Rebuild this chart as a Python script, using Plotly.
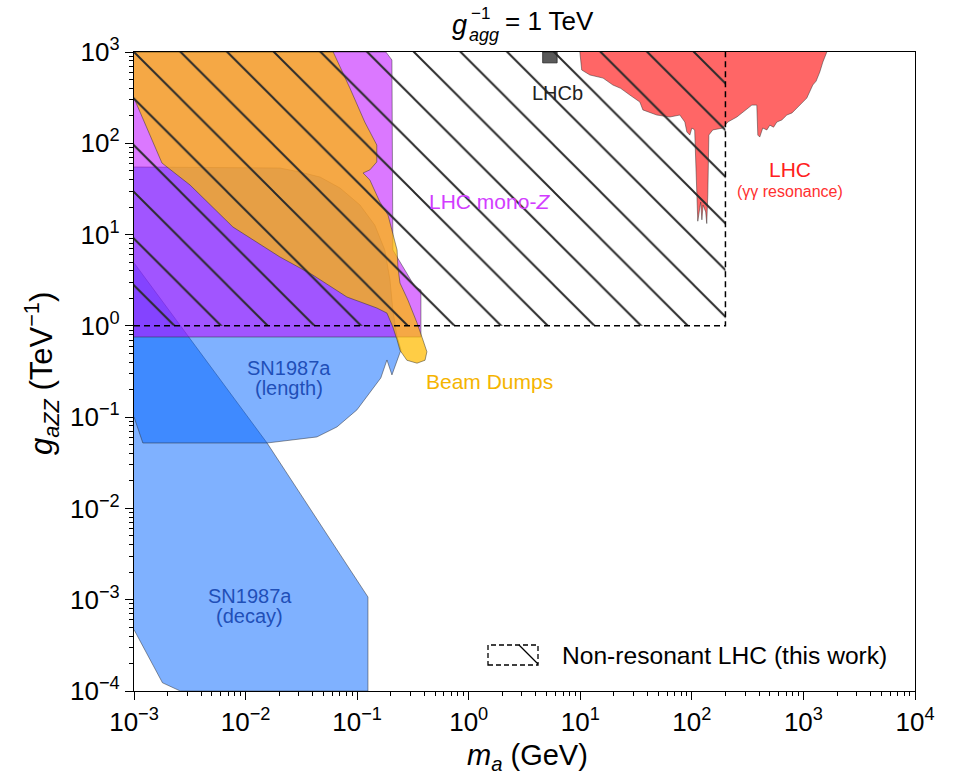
import numpy as np
import plotly.graph_objects as go

# ---------------- data (m_a in GeV, g_aZZ in TeV^-1) ----------------
decay_m = [1e-3, 0.0156, 0.125, 0.125, 0.0026, 0.0018, 1e-3]
decay_g = [4.9, 0.052, 0.00107, 1e-4, 1e-4, 1.23e-4, 4.7e-4]

length_m = [1e-3, 0.0203, 0.0307, 0.0465, 0.0702, 0.106, 0.144, 0.177, 0.197, 0.209, 0.228,
            0.247, 0.205, 0.185, 0.163, 0.130, 0.0995, 0.0659, 0.0436, 0.0156, 0.0012, 1e-3]
length_g = [55.0, 53.6, 48.5, 42.7, 32.4, 21.1, 12.7, 6.78, 3.18, 1.49, 0.755,
            0.545, 0.29, 0.423, 0.269, 0.184, 0.120, 0.0781, 0.0607, 0.0521, 0.0521, 0.1005]

monoz_m = [1e-3, 0.181, 0.205, 0.209, 0.330, 0.373, 0.373, 1e-3]
monoz_g = [1000, 1000, 817, 6.78, 2.67, 2.47, 0.755, 0.755]

beam_m = [1e-3, 0.061, 0.086, 0.117, 0.150, 0.150, 0.130, 0.113, 0.130, 0.160, 0.189, 0.205,
          0.228, 0.232, 0.242, 0.285, 0.344, 0.389, 0.422, 0.406, 0.344, 0.279, 0.242, 0.228,
          0.209, 0.185, 0.150, 0.081, 0.040, 0.0203, 0.0077, 0.00318, 0.00178, 1e-3]
beam_g = [1000, 1000, 404, 171, 95.7, 62.4, 51.1, 47.3, 39.6, 22.7, 16.4, 11.2,
          6.78, 4.42, 2.95, 1.92, 1.08, 0.70, 0.52, 0.42, 0.39, 0.42, 0.54, 0.70,
          0.97, 1.38, 1.57, 2.07, 3.61, 5.69, 12.1, 34.9, 60.8, 313]

lhc_m = [9.91, 10.3, 12.2, 16.0, 19.6, 23.0, 27.8, 34.2, 36.4, 48.5, 63.5, 78.0, 86.5, 90.2,
         95.9, 100, 106, 111, 113, 120, 123, 126, 133, 136, 139, 142, 154, 190, 210, 253,
         286, 345, 382, 390, 406, 432, 470, 500, 540, 578, 640, 710, 790, 873, 960, 1072,
         1213, 1300, 1402, 1493, 1621]
lhc_g = [1000, 635, 560, 518, 435, 400, 338, 283, 232, 204, 194, 204, 171, 133,
         123, 147, 140, 29.3, 14.0, 22.7, 14.5, 21.1, 17.7, 13.2, 27.2, 123, 140, 147, 171, 194,
         220, 262, 262, 123, 117, 147, 140, 158, 150, 171, 180, 204, 215, 244, 270, 313,
         435, 480, 604, 776, 1000]

lhcb_m = [4.6, 6.2, 6.2, 4.6, 4.6]
lhcb_g = [760, 760, 1000, 1000, 760]

nonres_m = [1e-3, 200, 200, 1e-3, 1e-3]
nonres_g = [1, 1, 1000, 1000, 1]

xtick_vals = [1e-3, 1e-2, 1e-1, 1e0, 1e1, 1e2, 1e3, 1e4]
xtick_text = ["10<sup>−3</sup>", "10<sup>−2</sup>", "10<sup>−1</sup>", "10<sup>0</sup>",
              "10<sup>1</sup>", "10<sup>2</sup>", "10<sup>3</sup>", "10<sup>4</sup>"]
ytick_vals = [1e-4, 1e-3, 1e-2, 1e-1, 1e0, 1e1, 1e2, 1e3]
ytick_text = ["10<sup>−4</sup>", "10<sup>−3</sup>", "10<sup>−2</sup>", "10<sup>−1</sup>",
              "10<sup>0</sup>", "10<sup>1</sup>", "10<sup>2</sup>", "10<sup>3</sup>"]

# ---------------- layout constants ----------------
W, H = 954, 779
L, R, T, B = 134, 39, 52, 88
PW, PH = W - L - R, H - T - B
FONT = "Liberation Sans, Arial, sans-serif"
EDGE = "rgba(40,40,40,0.6)"


def px(xp):
    return (xp - L) / PW


def py(yp):
    return (H - B - yp) / PH


fig = go.Figure()


def region(xs, ys, color, lw=0.8, edge=EDGE):
    fig.add_trace(go.Scatter(x=xs, y=ys, fill="toself", mode="lines", fillcolor=color,
                             line=dict(color=edge, width=lw), hoverinfo="skip", showlegend=False))


region(decay_m, decay_g, "rgba(0,100,255,0.5)")
region(length_m, length_g, "rgba(0,100,255,0.5)")
region(monoz_m, monoz_g, "rgba(190,10,255,0.55)")
region(beam_m, beam_g, "rgba(255,186,0,0.73)")
region(lhc_m, lhc_g, "rgba(255,0,0,0.6)")
region(lhcb_m, lhcb_g, "rgba(90,90,90,1)", edge="rgba(40,40,40,1)")

# hatched non-resonant region
fig.add_trace(go.Scatter(x=nonres_m, y=nonres_g, fill="toself", mode="none",
                         fillcolor="rgba(0,0,0,0)",
                         fillpattern=dict(shape="\\", size=33, solidity=0.06,
                                          fgcolor="#2a2a2a", fgopacity=1, bgcolor="rgba(0,0,0,0)"),
                         hoverinfo="skip", showlegend=False))
fig.add_trace(go.Scatter(x=nonres_m[:3], y=nonres_g[:3], mode="lines",
                         line=dict(color="black", width=1.5, dash="6px,4px"),
                         hoverinfo="skip", showlegend=False))

ax_common = dict(type="log", showgrid=False, zeroline=False, showline=True, mirror=True,
                 linecolor="black", linewidth=1.3, ticks="outside", ticklen=8, tickwidth=1.2,
                 tickcolor="black", tickfont=dict(family=FONT, size=26, color="black"),
                 tickmode="array")
minor_vals_x = [k * v for v in xtick_vals[:-1] for k in range(2, 10)]
minor_vals_y = [k * v for v in ytick_vals[:-1] for k in range(2, 10)]

fig.update_xaxes(range=[-3, 4], tickvals=xtick_vals, ticktext=xtick_text,
                 minor=dict(tickmode="array", tickvals=minor_vals_x, ticks="outside", ticklen=4,
                            tickwidth=1, tickcolor="black", showgrid=False), **ax_common)
fig.update_yaxes(range=[-4, 3], tickvals=ytick_vals, ticktext=ytick_text,
                 minor=dict(tickmode="array", tickvals=minor_vals_y, ticks="outside", ticklen=4,
                            tickwidth=1, tickcolor="black", showgrid=False), **ax_common)

ann = []


def dlabel(x, y, text, color, size):
    ann.append(dict(x=np.log10(x), y=np.log10(y), xref="x", yref="y", text=text, showarrow=False,
                    font=dict(family=FONT, size=size, color=color), xanchor="center", yanchor="middle"))


dlabel(1.55, 23.3, "LHC mono-<i>Z</i>", "#d23cff", 21)
dlabel(6.3, 356, "LHCb", "#222222", 20)
dlabel(755, 51, "LHC", "#ff2020", 21)
dlabel(755, 30, "(γγ resonance)", "#ff3030", 16)
dlabel(0.0245, 0.346, "SN1987a", "#1f4fb8", 20)
dlabel(0.0245, 0.209, "(length)", "#1f4fb8", 20)
dlabel(0.0109, 0.0011, "SN1987a", "#1f4fb8", 20)
dlabel(0.0109, 0.000665, "(decay)", "#1f4fb8", 20)
dlabel(1.55, 0.243, "Beam Dumps", "#f5b400", 21)


def plabel(xp, yp, text, size, xanchor="center", angle=0, color="black"):
    ann.append(dict(x=px(xp), y=py(yp), xref="paper", yref="paper", text=text, showarrow=False,
                    textangle=angle, font=dict(family=FONT, size=size, color=color),
                    xanchor=xanchor, yanchor="middle"))


# title  g_agg^-1 = 1 TeV
plabel(459, 25, "<i>g</i>", 27)
plabel(469, 13, "−1", 17, xanchor="left")
plabel(467, 35, "<i>agg</i>", 18, xanchor="left")
plabel(503, 21, "= 1 TeV", 26, xanchor="left")
# axis titles
plabel(527, 757, "<i>m</i><sub><i>a</i></sub> (GeV)", 29)
plabel(42, 374, "<i>g</i><sub><i>aZZ</i></sub> (TeV<sup>−1</sup>)", 31, angle=-90)
# legend
plabel(560, 655, "Non-resonant LHC (this work)", 24.6, xanchor="left")

shapes = [
    dict(type="rect", xref="paper", yref="paper", x0=px(488), x1=px(538), y0=py(665), y1=py(645),
         line=dict(color="black", width=1.3, dash="5px,3px"), fillcolor="rgba(0,0,0,0)"),
    dict(type="line", xref="paper", yref="paper", x0=px(519), y0=py(645), x1=px(538), y1=py(664),
         line=dict(color="black", width=1.2)),
]

fig.update_layout(width=W, height=H, margin=dict(l=L, r=R, t=T, b=B, autoexpand=False),
                  paper_bgcolor="white", plot_bgcolor="white", showlegend=False,
                  annotations=ann, shapes=shapes, font=dict(family=FONT))

fig.write_html("out.html")
